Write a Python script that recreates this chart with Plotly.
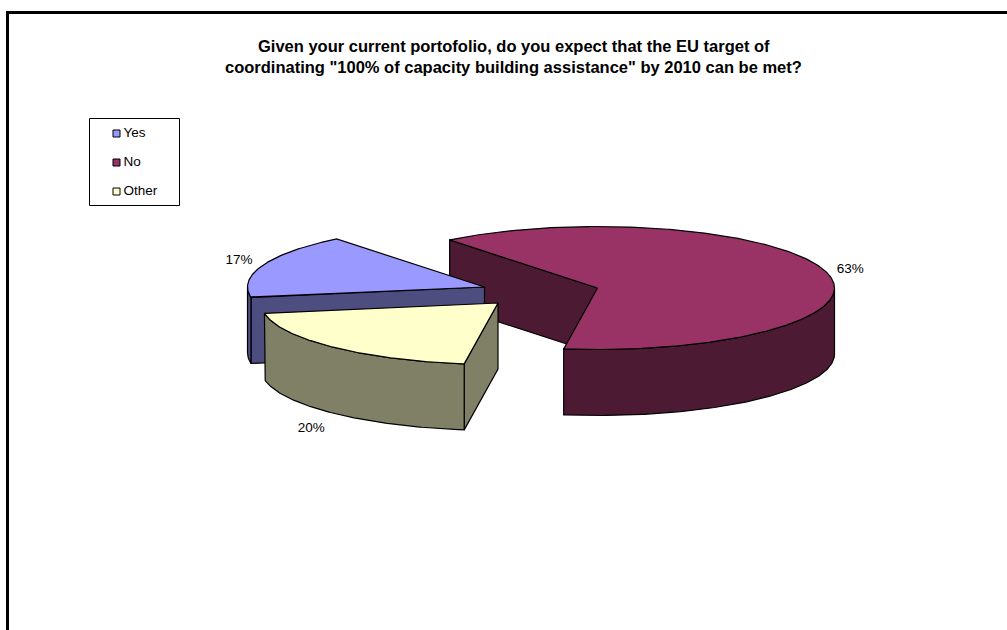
import numpy as np
import plotly.graph_objects as go

# Survey result
CATEGORIES = ["Yes", "No", "Other"]
SHARES = [17, 63, 20]
TITLE_LINES = [
    "Given your current portofolio, do you expect that the EU target of",
    'coordinating "100% of capacity building assistance" by 2010 can be met?',
]

# Styling
TOP_COLORS = ["#9999FF", "#993366", "#FFFFCC"]
SIDE_COLORS = ["#4D4D80", "#4D1A33", "#808066"]
FONT = "Liberation Sans, Arial, sans-serif"
TITLE_SIZE = 16.5
FONT_SIZE = 13.5
EDGE_WIDTH = 1.2

# Pie projection, in page pixels
WIDTH, HEIGHT = 1007, 630
RX, RY, DEPTH = 237, 61.5, 66
FIRST_ANGLE = 260.2  # clockwise from twelve o'clock
CENTERS = [(484.5, 287), (597.5, 288), (498, 303)]  # each slice is pulled out on its own
LABEL_NUDGES = [(-24, -5), (24, -2), (-21.5, 16)]
DRAW_ORDER = [1, 0, 2]  # back to front


def rim_point(center, angle, drop=0.0):
    rad = np.radians(angle)
    return center[0] + RX * np.sin(rad), center[1] - RY * np.cos(rad) + drop


def arc(center, start, end, drop=0.0):
    steps = max(int(abs(end - start)) * 2, 2)
    return rim_point(center, np.linspace(start, end, steps), drop)


def polygon(xs, ys, color, name):
    return go.Scatter(
        x=list(xs), y=list(ys), mode="lines", fill="toself", fillcolor=color,
        line=dict(color="black", width=EDGE_WIDTH), name=name, showlegend=False,
        hoverinfo="skip",
    )


def wall(center, angle, color, name):
    ex, ey = rim_point(center, angle)
    cx, cy = center
    return polygon([cx, ex, ex, cx, cx], [cy, ey, ey + DEPTH, cy + DEPTH, cy], color, name)


# Start and end angle of every slice, derived from its share
edges = FIRST_ANGLE + np.cumsum([0] + SHARES) * 3.6
spans = list(zip(edges[:-1], edges[1:]))

fig = go.Figure()

for i in DRAW_ORDER:
    start, end = spans[i]
    center = CENTERS[i]
    name, top, side = CATEGORIES[i], TOP_COLORS[i], SIDE_COLORS[i]

    # Cut faces that turn towards the viewer
    if 180 < start % 360 < 360:
        fig.add_trace(wall(center, start, side, name))
    if 0 < end % 360 < 180:
        fig.add_trace(wall(center, end, side, name))

    # Outer rim: only the part on the front half of the ellipse
    for turn in (0, 360):
        lo, hi = max(start, 90 + turn), min(end, 270 + turn)
        if lo < hi:
            ux, uy = arc(center, lo, hi)
            lx, ly = arc(center, hi, lo, DEPTH)
            fig.add_trace(polygon(
                np.r_[ux, lx, ux[0]], np.r_[uy, ly, uy[0]], side, name))

    # Top surface
    ax, ay = arc(center, start, end)
    fig.add_trace(polygon(
        np.r_[center[0], ax, center[0]], np.r_[center[1], ay, center[1]], top, name))

# Percentage labels, placed from each slice's middle angle
for i, share in enumerate(SHARES):
    mid = sum(spans[i]) / 2
    lx, ly = rim_point(CENTERS[i], mid, DEPTH if 90 < mid % 360 < 270 else 0)
    fig.add_trace(go.Scatter(
        x=[lx + LABEL_NUDGES[i][0]], y=[ly + LABEL_NUDGES[i][1]],
        mode="text", text=[f"{share}%"], textposition="middle center",
        textfont=dict(family=FONT, size=FONT_SIZE, color="black"),
        showlegend=False, hoverinfo="skip",
    ))

# Key in the upper left corner
KEY_BOX = (89.5, 118.5, 179.5, 205.5)
KEY_X, KEY_TEXT_X, KEY_Y0, KEY_STEP = 116.5, 123.5, 133.5, 29
key_y = [KEY_Y0 + KEY_STEP * i for i in range(len(CATEGORIES))]
fig.add_shape(type="rect", x0=KEY_BOX[0], y0=KEY_BOX[1], x1=KEY_BOX[2], y1=KEY_BOX[3],
              line=dict(color="black", width=1), fillcolor="white", layer="below")
fig.add_trace(go.Scatter(
    x=[KEY_X] * len(CATEGORIES), y=key_y, mode="markers",
    marker=dict(symbol="square", size=7, color=TOP_COLORS, line=dict(color="black", width=1)),
    showlegend=False, hoverinfo="skip",
))
fig.add_trace(go.Scatter(
    x=[KEY_TEXT_X] * len(CATEGORIES), y=key_y, mode="text", text=CATEGORIES,
    textposition="middle right",
    textfont=dict(family=FONT, size=FONT_SIZE, color="black"),
    showlegend=False, hoverinfo="skip",
))

# Heavy frame along the top and left edges
fig.add_shape(type="line", x0=6, x1=WIDTH, y0=12.5, y1=12.5, line=dict(color="black", width=3))
fig.add_shape(type="line", x0=7.5, x1=7.5, y0=11, y1=HEIGHT, line=dict(color="black", width=3))

# Two-line bold heading
for text, y in zip(TITLE_LINES, (46, 67)):
    fig.add_annotation(
        x=513.5, y=y, xref="x", yref="y", text=f"<b>{text}</b>", showarrow=False,
        xanchor="center", yanchor="middle",
        font=dict(family=FONT, size=TITLE_SIZE, color="black"),
    )

fig.update_xaxes(range=[0, WIDTH], visible=False, fixedrange=True)
fig.update_yaxes(range=[HEIGHT, 0], visible=False, fixedrange=True)
fig.update_layout(
    width=WIDTH, height=HEIGHT, autosize=False,
    margin=dict(l=0, r=0, t=0, b=0, pad=0),
    paper_bgcolor="white", plot_bgcolor="white", showlegend=False,
)

fig.write_html("out.html", config=dict(displayModeBar=False))
